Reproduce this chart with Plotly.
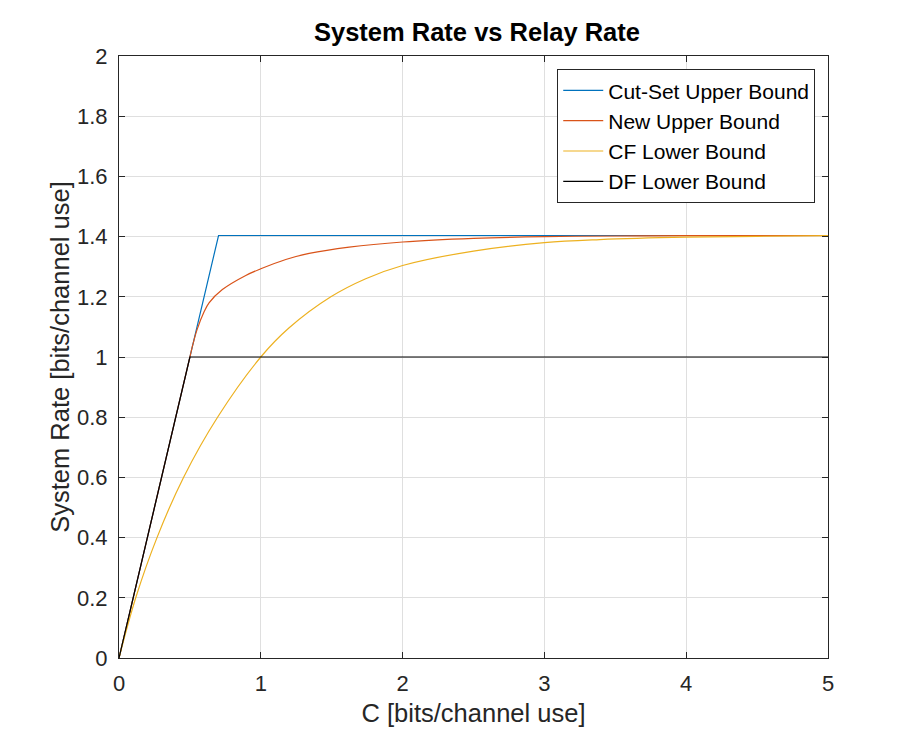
import plotly.graph_objects as go

# values
cut_c = [0, 0.702, 5]
cut_r = [0, 1.4037, 1.4037]

new_c = [0, 0.25, 0.5, 0.52, 0.55, 0.6, 0.635, 0.729, 0.894, 1.0, 1.176, 1.341,
         1.623, 2.0, 2.5, 3.0, 3.5, 4.0, 5.0]
new_r = [0, 0.5, 1.0, 1.04, 1.09, 1.15, 1.18, 1.224, 1.271, 1.293, 1.324, 1.344,
         1.365, 1.382, 1.394, 1.400, 1.402, 1.403, 1.4037]

cf_c = [0, 0.118, 0.268, 0.455, 0.695, 1.0, 1.2, 1.494, 1.74, 2.0, 2.5, 3.0,
        3.39, 4.0, 4.5, 5.0]
cf_r = [0, 0.2, 0.4, 0.6, 0.8, 1.0, 1.097, 1.2, 1.26, 1.304, 1.352, 1.38,
        1.39, 1.398, 1.401, 1.403]

df_c = [0, 0.5, 5]
df_r = [0, 1.0, 1.0]

names = ['Cut-Set Upper Bound', 'New Upper Bound', 'CF Lower Bound', 'DF Lower Bound']
colors = ['#0072BD', '#D95319', '#EDB120', '#000000']

FONT = 'Liberation Sans, Arial, sans-serif'
AX = '#262626'

fig = go.Figure()
fig.add_trace(go.Scatter(x=cut_c, y=cut_r, mode='lines', name=names[0],
                         line=dict(color=colors[0], width=1.2)))
fig.add_trace(go.Scatter(x=new_c, y=new_r, mode='lines', name=names[1],
                         line=dict(color=colors[1], width=1.2, shape='spline', smoothing=1)))
fig.add_trace(go.Scatter(x=cf_c, y=cf_r, mode='lines', name=names[2],
                         line=dict(color=colors[2], width=1.2, shape='spline', smoothing=1)))
fig.add_trace(go.Scatter(x=df_c, y=df_r, mode='lines', name=names[3],
                         line=dict(color=colors[3], width=1.2)))

axis_style = dict(
    showline=True, linecolor=AX, linewidth=1, mirror='ticks',
    ticks='inside', ticklen=6, tickcolor=AX,
    showgrid=True, gridcolor='#dfdfdf', gridwidth=1, zeroline=False,
    tickfont=dict(family=FONT, size=22, color=AX),
)

fig.update_xaxes(range=[0, 5], dtick=1, tick0=0,
                 title=dict(text='C [bits/channel use]', standoff=8,
                            font=dict(family=FONT, size=25.5, color=AX)),
                 ticklabelstandoff=6, **axis_style)
fig.update_yaxes(range=[0, 2], dtick=0.2, tick0=0,
                 title=dict(text='System Rate [bits/channel use]', standoff=0,
                            font=dict(family=FONT, size=25.5, color=AX)),
                 ticklabelstandoff=6, **axis_style)

# page body has an 8px margin, so the figure is 8px smaller than the window
fig.update_layout(
    width=908, height=733,
    margin=dict(l=111, r=88, t=48, b=83, autoexpand=False),
    paper_bgcolor='white', plot_bgcolor='white',
    title=dict(text='<b>System Rate vs Relay Rate</b>', x=0.5165, xanchor='center',
               y=0.967, yanchor='middle', yref='container',
               font=dict(family=FONT, size=25.5, color='black')),
    legend=dict(x=0.982, y=0.978, xanchor='right', yanchor='top',
                bgcolor='white', bordercolor=AX, borderwidth=1,
                font=dict(family=FONT, size=21, color='black'),
                tracegroupgap=0, itemwidth=40),
    showlegend=True,
)

fig.write_html("out.html")
